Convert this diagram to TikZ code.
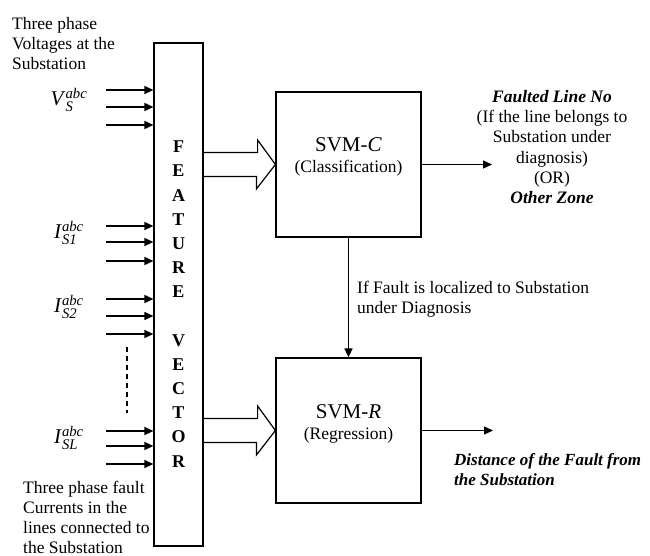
\documentclass[tikz,border=0pt]{standalone}
\usepackage{amsmath}
\usepackage{fontspec}
\setmainfont{Liberation Serif}
\usepackage{tikz}
\usetikzlibrary{arrows.meta,calc}

\newcommand{\phasor}[2]{\textit{#1}$^{\text{\itshape abc}}_{\text{\itshape #2}}$}

\begin{document}
\begin{tikzpicture}[
    x=1pt, y=-1pt,
    txt/.style={font=\fontsize{17.5}{20.3}\selectfont, inner sep=0pt},
    bigtxt/.style={font=\fontsize{21}{21}\selectfont, inner sep=0pt},
    sym/.style={font=\fontsize{21}{21}\selectfont, inner sep=0pt},
    letter/.style={font=\fontsize{18}{18}\selectfont\bfseries, inner sep=0pt},
    blockbox/.style={draw, line width=1.2pt, inner sep=0pt},
    inarr/.style={line width=1.2pt, -{Triangle[length=9pt,width=8pt]}},
    fatarr/.style={draw, line width=1.2pt, line join=miter},
]
\useasboundingbox (0,0) rectangle (650,556);

% Feature vector column
\node[blockbox, minimum width=49, minimum height=503] (fv) at (178.5,294.5) {};
\foreach \ch/\ypos in {F/147, E/171, A/196, T/220, U/244, R/268, E/292,
                       V/341, E/365, C/389, T/413, O/437, R/462}{
  \node[letter] at (178.5,\ypos) {\ch};
}

% SVM blocks
\node[blockbox, minimum width=145, minimum height=145] (svmc) at (348.5,164.5) {};
\node[blockbox, minimum width=145, minimum height=145] (svmr) at (348.5,430.5) {};
\node[bigtxt, align=center] (svmctxt) at ([yshift=8pt]svmc.center)
  {SVM-\textit{C}\\{\fontsize{17.5}{20}\selectfont (Classification)}};
\node[bigtxt, align=center] (svmrtxt) at ([yshift=7pt]svmr.center)
  {SVM-\textit{R}\\{\fontsize{17.5}{20}\selectfont (Regression)}};

% Inputs
\node[txt, align=left, anchor=north west] (vtitle) at (12,17)
  {Three phase\\Voltages at the\\Substation};
\node[txt, font=\fontsize{17.5}{20}\selectfont, align=left, anchor=north west] (ititle) at (23,481)
  {Three phase fault\\Currents in the\\lines connected to\\the Substation};
\node[sym] (vs) at (69,100) {\phasor{V}{S}};
\node[sym] (is1) at (69,233) {\phasor{I}{S1}};
\node[sym] (is2) at (69,307) {\phasor{I}{S2}};
\node[sym] (isl) at (69,438) {\phasor{I}{SL}};

\foreach \ypos [count=\i] in {90,107,125,226,242,261,299,316,334,431,446,464}{
  \coordinate (in\i) at (106,\ypos);
  \draw[inarr] (in\i) -- (in\i -| fv.west);
}
\coordinate (dtop) at (127,347);
\coordinate (dbot) at (127,413);
\draw[line width=1.3pt, dash pattern=on 5pt off 4pt] (dtop) -- (dbot);

% Hollow arrows into the SVM blocks
\foreach \tgt in {svmc,svmr}{
  \draw[fatarr] ($(fv.east |- \tgt.west)+(0,-12)$) -- ++(54,0) -- ++(0,-12.5)
    -- (\tgt.west) -- ++(-19,24.5) -- ++(0,-12.5)
    -- ($(fv.east |- \tgt.west)+(0,12)$);
}

% Outputs
\coordinate (outc) at (492,164.5);
\coordinate (outr) at (493,430.5);
\draw[inarr] (svmc.east) -- (outc);
\draw[inarr] (svmr.east) -- (outr);
\draw[inarr] (svmc.south) -- (svmr.north);

\node[txt, align=center, anchor=north] (ctxt) at (552,90)
  {\textbf{\textit{Faulted Line No}}\\(If the line belongs to\\Substation under\\diagnosis)\\(OR)\\\textbf{\textit{Other Zone}}};
\node[txt, font=\fontsize{17}{20.5}\selectfont, align=left, anchor=north west] (rtxt) at (454,453)
  {\textbf{\textit{Distance of the Fault from}}\\\textbf{\textit{the Substation}}};
\node[txt, align=left, anchor=north west] (iftxt) at (357,281)
  {If Fault is localized to Substation\\under Diagnosis};

\end{tikzpicture}
\end{document}
